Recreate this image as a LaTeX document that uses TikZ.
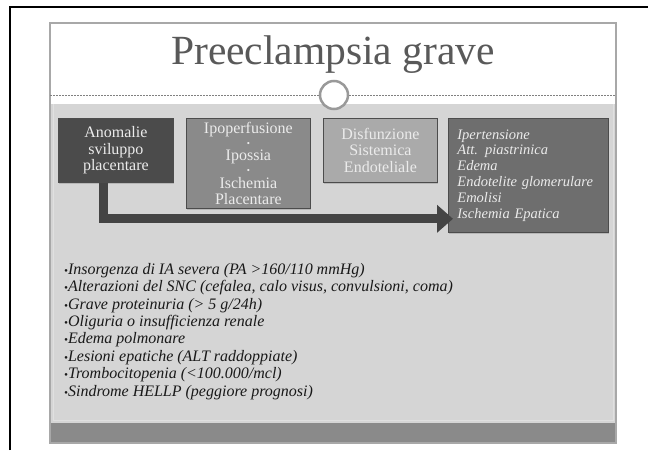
\documentclass[tikz,border=0pt]{standalone}
\usepackage{fontspec}
\setmainfont{Liberation Serif}
\usepackage{tikz}
\usepackage{xcolor}
\usetikzlibrary{arrows.meta,shadows}

\definecolor{slidebg}{HTML}{D5D5D5}
\definecolor{slideedge}{HTML}{A8A8A8}
\definecolor{bandgray}{HTML}{8A8A8A}
\definecolor{boxone}{HTML}{4B4B4B}
\definecolor{boxtwo}{HTML}{8A8A8A}
\definecolor{boxthree}{HTML}{AAAAAA}
\definecolor{boxfour}{HTML}{6E6E6E}
\definecolor{arrowgray}{HTML}{444444}
\newcommand{\smbul}{{\fontsize{9}{9}\selectfont\textbullet}}
\newcommand{\lstbul}{{\fontsize{11}{11}\selectfont\textbullet}}

\tikzset{
  slidebox/.style={draw=black!70,line width=0.8pt,inner sep=0pt,anchor=north west,
    text=white!92!black,font=\fontsize{16}{16.5}\selectfont,align=center,
    drop shadow={opacity=0.35,shadow xshift=1pt,shadow yshift=-1.2pt}},
  flowarrow/.style={arrowgray,line width=9pt,line join=miter,
    -{Triangle[width=27pt,length=16pt]}}
}

\begin{document}
\begin{tikzpicture}[x=1pt,y=-1pt,every node/.style={font=\fontsize{15}{17.4}\selectfont}]
\useasboundingbox (0,0) rectangle (648,450);
\fill[white] (0,0) rectangle (648,450);
\draw[line width=1.5pt] (10,450) -- (10,7) -- (648,7);
\fill[white] (50,23) rectangle (616,104);
\fill[slidebg] (50,104) rectangle (616,423);
\fill[bandgray] (50,423) rectangle (616,443);
\draw[white!88!black,line width=0.8pt] (53,104) -- (53,420) -- (613,420) -- (613,104);
\draw[slideedge,line width=1.5pt] (50,23) rectangle (616,443);
\node[anchor=base,text=black!65,font=\fontsize{41.5}{41.5}\selectfont] (title) at (333,64) {Preeclampsia grave};
\node[circle,draw=black!40,line width=2.5pt,fill=white,minimum size=28pt] (orn) at (334,95) {};
\draw[black!50,line width=0.8pt,dash pattern=on 2pt off 1pt] (50,95) -- (orn.west);
\draw[black!50,line width=0.8pt,dash pattern=on 2pt off 1pt] (orn.east) -- (616,95);
\node[slidebox,fill=boxone,minimum width=115pt,minimum height=64pt] (anom) at (58,118) {Anomalie\\sviluppo\\placentare};
\node[slidebox,fill=boxtwo,minimum width=124pt,minimum height=90pt] (ipop) at (186,118) {Ipoperfusione\\[-3pt]\smbul\\[-3pt]Ipossia\\[-3pt]\smbul\\[-2pt]Ischemia\\Placentare};
\node[slidebox,fill=boxthree,minimum width=114pt,minimum height=64pt] (disf) at (323,118) {Disfunzione\\Sistemica\\Endoteliale};
\node[slidebox,fill=boxfour,minimum width=160pt,minimum height=114pt,text width=142pt,inner xsep=9pt,align=left,font=\fontsize{14.5}{15.8}\selectfont\itshape] (manif) at (448,118) {Ipertensione\\Att. piastrinica\\Edema\\Endotelite glomerulare\\Emolisi\\Ischemia Epatica};
\draw[flowarrow] ([xshift=-12pt]anom.south) |- ([xshift=5pt,yshift=14pt]manif.south west);
\node[anchor=north west,inner sep=0pt,align=left,text=black!90,font=\fontsize{16}{17.4}\selectfont\itshape] (crit) at (64,263) {\lstbul Insorgenza di IA severa (PA >160/110 mmHg)\\
\lstbul Alterazioni del SNC (cefalea, calo visus, convulsioni, coma)\\
\lstbul Grave proteinuria (> 5 g/24h)\\
\lstbul Oliguria o insufficienza renale\\
\lstbul Edema polmonare\\
\lstbul Lesioni epatiche (ALT raddoppiate)\\
\lstbul Trombocitopenia (<100.000/mcl)\\
\lstbul Sindrome HELLP (peggiore prognosi)};
\end{tikzpicture}
\end{document}
